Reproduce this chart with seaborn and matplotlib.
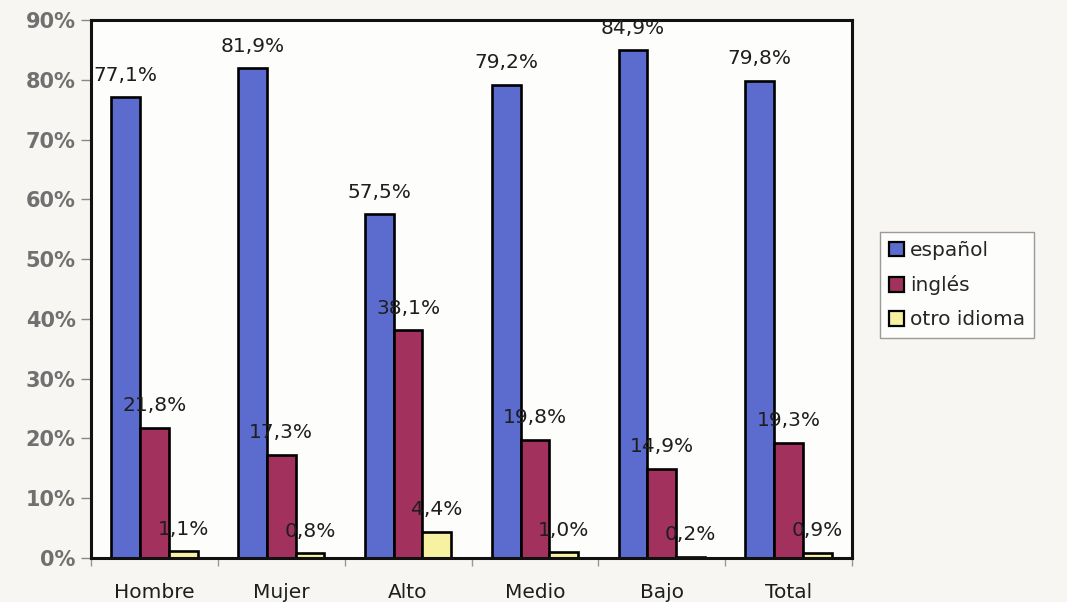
import matplotlib
matplotlib.use("Agg")
import matplotlib.pyplot as plt
import seaborn as sns
import pandas as pd
import numpy as np
from matplotlib.ticker import FixedLocator, FuncFormatter

# Categories and series
grupos = ["Hombre", "Mujer", "Alto", "Medio", "Bajo", "Total"]
idiomas = ["español", "inglés", "otro idioma"]
espanol = [77.1, 81.9, 57.5, 79.2, 84.9, 79.8]
ingles = [21.8, 17.3, 38.1, 19.8, 14.9, 19.3]
otro = [1.1, 0.8, 4.4, 1.0, 0.2, 0.9]
y_ticks = [0, 10, 20, 30, 40, 50, 60, 70, 80, 90]

colores = ["#5b6cce", "#a2325d", "#f7f1a2"]

df = pd.DataFrame({
    "grupo": grupos * 3,
    "idioma": [idiomas[0]] * 6 + [idiomas[1]] * 6 + [idiomas[2]] * 6,
    "valor": espanol + ingles + otro,
})

sns.set_theme(style="white")
plt.rcParams["font.family"] = ["DejaVu Sans"]

fig = plt.figure(figsize=(10.67, 6.02), dpi=100)
fig.patch.set_facecolor("#f7f6f3")
ax = fig.add_axes([91 / 1067, 1 - 558 / 602, (852 - 91) / 1067, (558 - 20) / 602])
ax.set_facecolor("#fdfdfc")

sns.barplot(data=df, x="grupo", y="valor", hue="idioma", order=grupos,
            hue_order=idiomas, palette=colores, width=0.68,
            edgecolor="black", linewidth=1.9, saturation=1, ax=ax)

def fmt(v):
    return f"{v:.1f}".replace(".", ",") + "%"

for cont in ax.containers:
    vals = [b.get_height() for b in cont]
    ax.bar_label(cont, labels=[fmt(v) for v in vals], padding=9,
                 fontsize=14.5, color="#1e1e1e")

ax.set_ylim(0, 90)
ax.set_xlim(-0.5, 5.5)
ax.yaxis.set_major_locator(FixedLocator(y_ticks))
ax.yaxis.set_major_formatter(FuncFormatter(lambda v, p: f"{int(v)}%"))
ax.tick_params(axis="y", which="major", direction="out", length=7, width=1,
               color="#888888", labelsize=15, labelcolor="#707070", left=True, pad=4)
for t in ax.get_yticklabels():
    t.set_fontweight("bold")

ax.set_xticks(range(len(grupos)))
ax.set_xticklabels(grupos)
ax.tick_params(axis="x", which="major", length=0, labelsize=14.5, labelcolor="#1e1e1e", pad=18)
ax.xaxis.set_minor_locator(FixedLocator(np.arange(-0.5, 6.0, 1.0)))
ax.tick_params(axis="x", which="minor", direction="out", length=6, width=1,
               color="#999999", bottom=True)

ax.set_xlabel("")
ax.set_ylabel("")
for s in ax.spines.values():
    s.set_visible(True)
    s.set_color("#111111")
    s.set_linewidth(2.2)

leg = ax.legend(loc="upper left", bbox_to_anchor=(880 / 1067, 1 - 232 / 602),
                bbox_transform=fig.transFigure, fontsize=14.5, frameon=True,
                fancybox=False, edgecolor="#9a9a9a", framealpha=1,
                facecolor="#fdfdfc", handlelength=0.75, handleheight=0.75,
                handletextpad=0.3, labelspacing=0.75, borderpad=0.45,
                borderaxespad=0)
leg.get_frame().set_linewidth(1.0)
for h in leg.legend_handles:
    h.set_edgecolor("black")
    h.set_linewidth(1.6)

fig.savefig("out.png", dpi=100, facecolor=fig.get_facecolor())
